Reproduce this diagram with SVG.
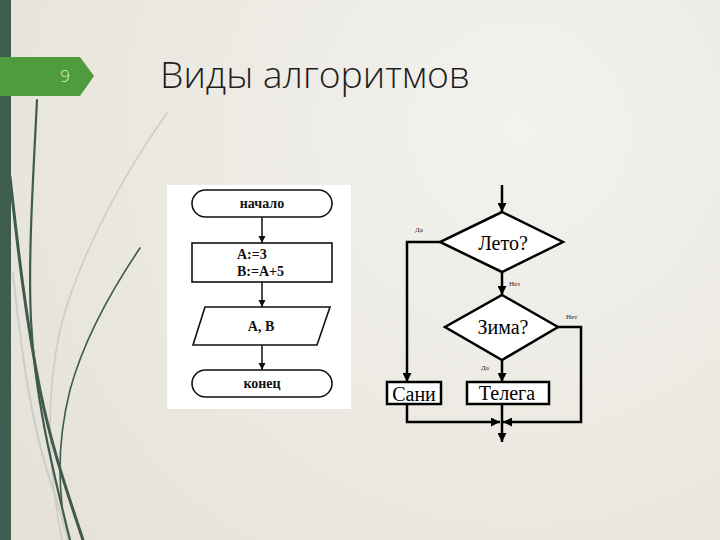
<svg xmlns="http://www.w3.org/2000/svg" width="720" height="540" viewBox="0 0 720 540">
<defs>
<radialGradient id="bg" cx="520" cy="130" r="650" gradientUnits="userSpaceOnUse">
<stop offset="0" stop-color="#F3F2EE"/>
<stop offset="1" stop-color="#E5E1D7"/>
</radialGradient>
<marker id="ahL" viewBox="0 0 10 10" refX="10" refY="5" markerWidth="7" markerHeight="8" markerUnits="userSpaceOnUse" orient="auto"><path d="M0,0 L10,5 L0,10 z" fill="#111"/></marker>
<marker id="ahR" viewBox="0 0 10 10" refX="10" refY="5" markerWidth="9" markerHeight="9" markerUnits="userSpaceOnUse" orient="auto"><path d="M0,0 L10,5 L0,10 z" fill="#000"/></marker>
</defs>
<style>
.grass{fill:none;stroke-linecap:round}
.lshape{fill:#fff;stroke:#111;stroke-width:1.6}
.ltxt{font-family:"Liberation Serif","DejaVu Serif",serif;font-weight:bold;font-size:14px;fill:#111}
.lconn{fill:none;stroke:#111;stroke-width:1.5;marker-end:url(#ahL)}
.rshape{fill:#fff;stroke:#000;stroke-width:2.5}
.rtxt{font-family:"Liberation Serif","DejaVu Serif",serif;font-size:20px;fill:#000;text-anchor:middle}
.rconn{fill:none;stroke:#000;stroke-width:2.5}
.rarrow{marker-end:url(#ahR)}
.small{font-family:"Liberation Serif","DejaVu Serif",serif;font-size:7px;fill:#222}
</style>
<rect x="0" y="0" width="720" height="540" fill="url(#bg)"/>
<g id="decor">
<path class="grass" d="M167,113 C130,165 80,250 60,330 C45,400 48,470 62,540" stroke="#CFCBC1" stroke-width="1.5"/>
<path class="grass" d="M13,273 C20,340 30,420 50,480 C58,505 64,525 68,540" stroke="#C9CFC8" stroke-width="2"/>
<path class="grass" d="M37,100 C33,180 28,260 31,320 C34,390 50,460 70,540" stroke="#3E5B4E" stroke-width="2.2"/>
<path class="grass" d="M10,177 C18,250 26,320 40,390 C52,450 70,500 83,540" stroke="#3E5B4E" stroke-width="3"/>
<path class="grass" d="M140,248 C115,285 85,335 70,390 C60,430 58,470 62,505" stroke="#3E5B4E" stroke-width="1.6"/>
<rect x="0" y="0" width="11" height="540" fill="#3F5D50"/>
<path d="M0,57 L80,57 L94,76 L80,96 L0,96 z" fill="#4E9C3E"/>
<text x="65" y="82" font-family="'Open Sans','DejaVu Sans',sans-serif" font-weight="300" font-size="17" fill="#D9F2C6" text-anchor="middle">9</text>
</g>
<text id="title" x="160" y="88" font-family="'Open Sans','Liberation Sans',sans-serif" font-weight="300" font-size="36" fill="#1E1E1E" textLength="310" lengthAdjust="spacingAndGlyphs">Виды алгоритмов</text>
<rect x="167" y="185" width="184" height="224" fill="#FFFFFF"/>
<g id="connectors">
<path class="lconn" d="M262,217 V243"/>
<path class="lconn" d="M262,282 V307"/>
<path class="lconn" d="M262,345 V370"/>
<path class="rconn rarrow" d="M502,185 V212"/>
<path class="rconn rarrow" d="M440,242 H407 V382"/>
<path class="rconn rarrow" d="M502,272 V295"/>
<path class="rconn rarrow" d="M558,327 H581 V422 H503"/>
<path class="rconn rarrow" d="M502,360 V382"/>
<path class="rconn rarrow" d="M407,404 V422 H500"/>
<path class="rconn rarrow" d="M502,404 V442"/>
<text class="small" x="415" y="232">Да</text>
<text class="small" x="509" y="286">Нет</text>
<text class="small" x="566" y="319">Нет</text>
<text class="small" x="481" y="370">Да</text>
</g>
<g id="start">
<rect class="lshape" x="192" y="190" width="140" height="27" rx="13.5"/>
<text class="ltxt" x="262" y="208" text-anchor="middle">начало</text>
</g>
<g id="assign">
<rect class="lshape" x="192" y="243" width="140" height="39"/>
<text class="ltxt" x="237" y="259">A:=3</text>
<text class="ltxt" x="237" y="276">B:=A+5</text>
</g>
<g id="output">
<polygon class="lshape" points="205,307 330,307 317,345 193,345"/>
<text class="ltxt" x="261" y="331" text-anchor="middle">A, B</text>
</g>
<g id="end">
<rect class="lshape" x="192" y="370" width="140" height="27" rx="13.5"/>
<text class="ltxt" x="262" y="388" text-anchor="middle">конец</text>
</g>
<g id="summer">
<polygon class="rshape" points="502,212 563,242 502,272 440,242"/>
<text class="rtxt" x="503" y="250">Лето?</text>
</g>
<g id="winter">
<polygon class="rshape" points="502,295 558,327 502,360 445,327"/>
<text class="rtxt" x="503" y="334">Зима?</text>
</g>
<g id="sani">
<rect class="rshape" x="387" y="382" width="54" height="22"/>
<text class="rtxt" x="414" y="401">Сани</text>
</g>
<g id="telega">
<rect class="rshape" x="467" y="382" width="82" height="22"/>
<text class="rtxt" x="507" y="400" font-size="17">Телега</text>
</g>
</svg>
